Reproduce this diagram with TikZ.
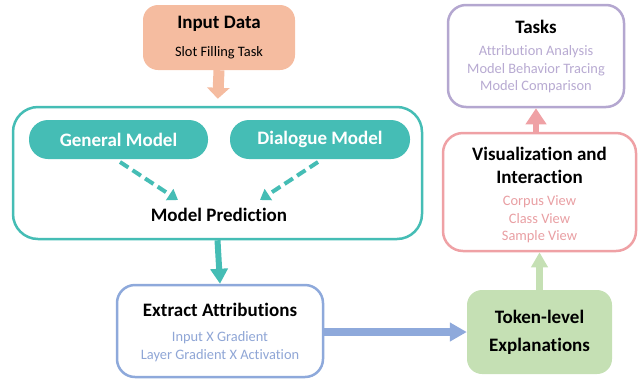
\documentclass[tikz,border=0pt]{standalone}
\usepackage{fontspec}
\setmainfont{Carlito}[Ligatures=NoCommon]
\usetikzlibrary{arrows.meta}
\definecolor{teal1}{HTML}{45BDB5}
\definecolor{salm}{HTML}{F5BCA0}
\definecolor{blu}{HTML}{8EA9DB}
\definecolor{bluT}{HTML}{8FA6D6}
\definecolor{grn}{HTML}{C5E0B4}
\definecolor{pnk}{HTML}{EFA1A5}
\definecolor{pnkT}{HTML}{E99FA3}
\definecolor{prp}{HTML}{B4A7D0}
\definecolor{prpT}{HTML}{B8AAD2}
\tikzset{
  box/.style={rectangle, draw, line width=2.5pt, fill=white, inner sep=0pt},
  ttl/.style={font=\bfseries\fontsize{19}{23}\selectfont, text=black},
  sub/.style={font=\fontsize{14.4}{17.5}\selectfont},
  pill/.style={rectangle, fill=teal1, rounded corners=19pt, minimum height=39pt, text=white, font=\bfseries\fontsize{19}{23}\selectfont},
  dasharrow/.style={teal1, line width=4pt, dash pattern=on 10pt off 5pt, -{Triangle[width=13pt,length=10pt]}},
}
\begin{document}
\begin{tikzpicture}[x=1pt,y=-1pt]
\useasboundingbox (0,0) rectangle (644,381);
% Input
\node[rectangle, fill=salm, rounded corners=15pt, minimum width=152pt, minimum height=65pt] (inp) at (219,37.5) {};
\node[ttl] (inpt) at (219,24) {Input Data};
\node[sub] (inps) at (219,53) {Slot Filling Task};
% big teal
\node[box, draw=teal1, rounded corners=25pt, minimum width=409pt, minimum height=132pt] (big) at (217.5,173) {};
\node[pill, minimum width=179pt] (gen) at (118.5,139.5) {General Model};
\node[pill, minimum width=180pt] (dia) at (320,139.5) {Dialogue Model};
\node[ttl] (pred) at (219,215) {Model Prediction};
\coordinate (g1) at (120,162);
\coordinate (g2) at (178,200);
\coordinate (d1) at (318,162);
\coordinate (d2) at (260,200);
\draw[dasharrow] (g1) -- (g2);
\draw[dasharrow] (d1) -- (d2);
% extract
\node[box, draw=blu, rounded corners=18pt, minimum width=206pt, minimum height=92pt] (ext) at (220,331) {};
\node[ttl] (extt) at (220,310) {Extract Attributions};
\node[sub, text=bluT, align=center, font=\fontsize{14.4}{18}\selectfont] (exts) at (220,347) {Input X Gradient\\Layer Gradient X Activation};
% token
\node[rectangle, fill=grn, rounded corners=15pt, minimum width=145pt, minimum height=84pt, ttl, align=center, font=\bfseries\fontsize{19}{28}\selectfont] (tok) at (539.5,332) {Token-level\\Explanations};
% vis
\node[box, draw=pnk, rounded corners=20pt, minimum width=193pt, minimum height=118pt] (vis) at (539.5,192) {};
\node[ttl, align=center] (vist) at (539.5,165) {Visualization and\\Interaction};
\node[sub, text=pnkT, align=center] (viss) at (539.5,219.5) {Corpus View\\Class View\\Sample View};
% tasks
\node[box, draw=prp, rounded corners=18pt, minimum width=176pt, minimum height=102pt] (tasks) at (536,56) {};
\node[ttl] (taskt) at (536,27) {Tasks};
\node[sub, text=prpT, align=center] (tasks2) at (536,69.5) {Attribution Analysis\\Model Behavior Tracing\\Model Comparison};
% arrows
\draw[salm, line width=11pt, shorten >=7pt, -{Triangle[width=22pt,length=11pt]}] (inp.south) -- (big.north);
\draw[teal1, line width=6pt, -{Triangle[width=17pt,length=15pt]}] (big.south) -- (ext.north);
\draw[blu, line width=8pt, -{Triangle[width=18pt,length=17pt]}] (ext.east |- 0,332) -- (tok.west |- 0,332);
\draw[grn, line width=6.5pt, -{Triangle[width=16pt,length=15pt]}] (tok.north) -- (vis.south);
\draw[pnk, line width=6pt, -{Triangle[width=20pt,length=16pt]}] (tasks.south |- vis.north) -- (tasks.south);
\end{tikzpicture}
\end{document}
